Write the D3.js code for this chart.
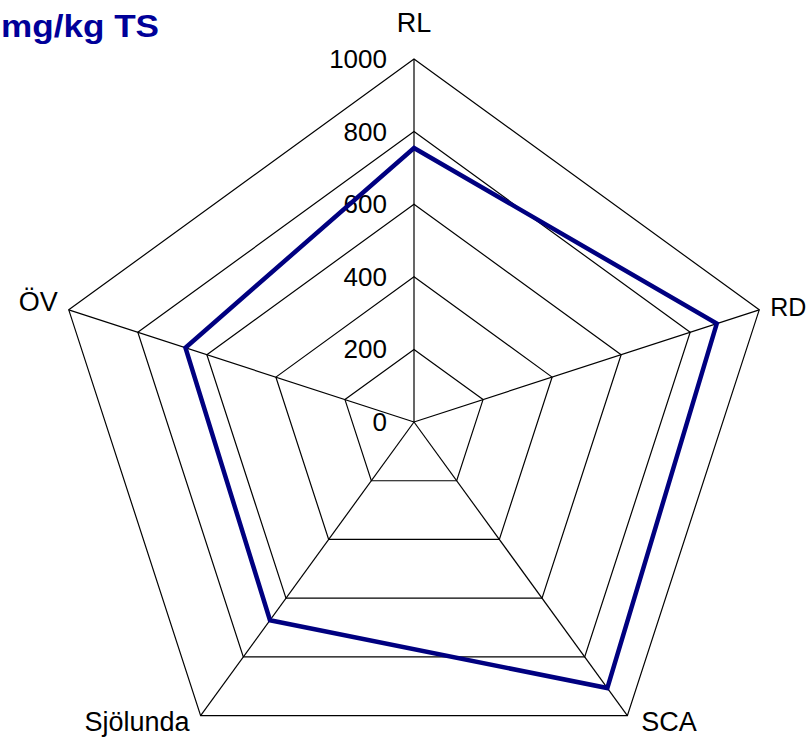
<!DOCTYPE html>
<html>
<head>
<meta charset="utf-8">
<script src="https://cdn.jsdelivr.net/npm/d3@7"></script>
<style>
  html, body { margin: 0; padding: 0; background: #fff; }
  svg { display: block; }
</style>
</head>
<body>
<div class="radar"></div>
<script>
const axes = ['RL', 'RD', 'SCA', 'Sjölunda', 'ÖV'];
const values = [755, 877, 906, 675, 662];
const ticks = [0, 200, 400, 600, 800, 1000];
const title = 'mg/kg TS';

const dimensions = {
  width: 810,
  height: 738,
  cx: 414,
  cy: 422,
  radius: 363,
};

const svg = d3
  .select('.radar')
  .append('svg')
  .attr('width', dimensions.width)
  .attr('height', dimensions.height);

const rScale = d3.scaleLinear().domain([0, 1000]).range([0, dimensions.radius]);

const angleScale = d3
  .scaleLinear()
  .domain([0, axes.length])
  .range([0, 2 * Math.PI]);

const point = (i, v) => {
  const a = angleScale(i);
  return [
    dimensions.cx + rScale(v) * Math.sin(a),
    dimensions.cy - rScale(v) * Math.cos(a),
  ];
};

const bounds = svg.append('g');

// rings
const ringLine = d3.line().curve(d3.curveLinearClosed);
bounds
  .selectAll('.ring')
  .data(ticks.filter((t) => t > 0))
  .join('path')
  .attr('d', (t) => ringLine(axes.map((_, i) => point(i, t))))
  .attr('fill', 'none')
  .attr('stroke', '#000')
  .attr('stroke-width', 1.2);

// spokes
bounds
  .selectAll('.spoke')
  .data(axes)
  .join('line')
  .attr('x1', dimensions.cx)
  .attr('y1', dimensions.cy)
  .attr('x2', (_, i) => point(i, 1000)[0])
  .attr('y2', (_, i) => point(i, 1000)[1])
  .attr('stroke', '#000')
  .attr('stroke-width', 1.2);

// tick labels
bounds
  .selectAll('.tick')
  .data(ticks)
  .join('text')
  .attr('x', dimensions.cx - 27)
  .attr('y', (t) => dimensions.cy - rScale(t))
  .attr('text-anchor', 'end')
  .attr('dominant-baseline', 'central')
  .style('font-family', '"Liberation Sans", Arial, sans-serif')
  .style('font-size', '26px')
  .attr('fill', '#000')
  .text((t) => t);

// series
bounds
  .append('path')
  .attr('d', ringLine(values.map((v, i) => point(i, v))))
  .attr('fill', 'none')
  .attr('stroke', '#000080')
  .attr('stroke-width', 4.5)
  .attr('stroke-linejoin', 'miter');

// axis labels
bounds
  .selectAll('.axis-label')
  .data(axes)
  .join('text')
  .each(function (d, i) {
    const [x, y] = point(i, 1000);
    const s = Math.sin(angleScale(i));
    const sel = d3.select(this);
    if (Math.abs(s) < 0.01) {
      sel.attr('x', x).attr('y', y - 36).attr('text-anchor', 'middle');
    } else if (s > 0) {
      // RD sits right at the edge; keep it inside the frame
      const dx = y < dimensions.cy ? 11 : 14;
      sel.attr('x', x + dx).attr('y', y + (y > dimensions.cy ? 6 : -3)).attr('text-anchor', 'start');
    } else {
      sel.attr('x', x - 11).attr('y', y + (y > dimensions.cy ? 6 : -8)).attr('text-anchor', 'end');
    }
  })
  .attr('dominant-baseline', 'central')
  .style('font-family', '"Liberation Sans", Arial, sans-serif')
  .style('font-size', (d, i) => (point(i, 1000)[0] > 700 ? '25px' : '27px'))
  .attr('fill', '#000')
  .text((d) => d);

// title (cut off on the left in the original)
svg
  .append('text')
  .attr('x', 1)
  .attr('y', 37)
  .attr('textLength', 158)
  .attr('lengthAdjust', 'spacingAndGlyphs')
  .style('font-family', '"Liberation Sans", Arial, sans-serif')
  .style('font-size', '31px')
  .style('font-weight', 'bold')
  .attr('fill', '#000099')
  .text(title);
</script>
</body>
</html>
